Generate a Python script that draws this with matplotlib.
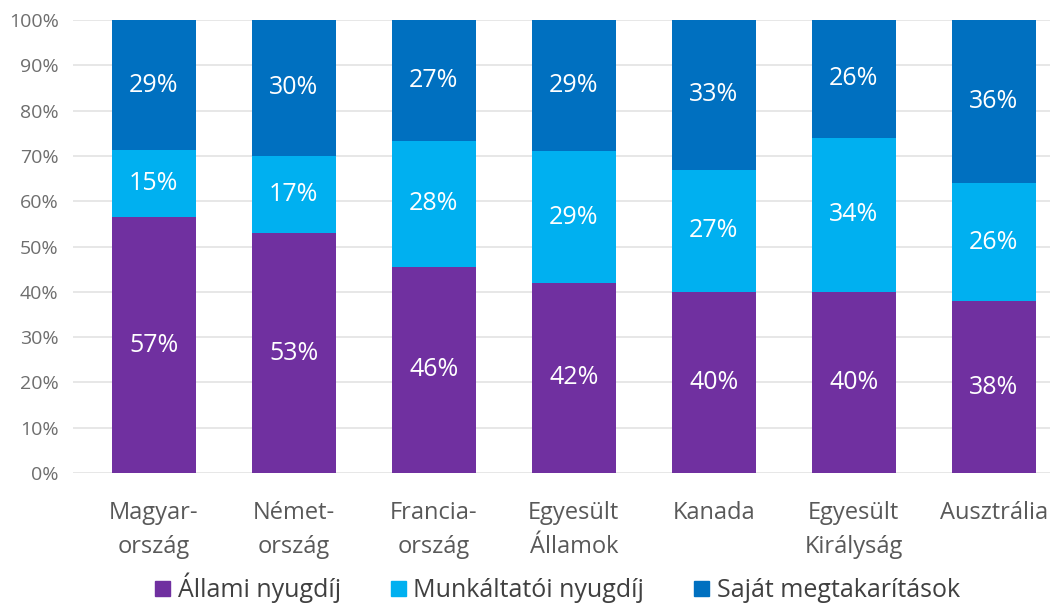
import matplotlib.pyplot as plt
from matplotlib.patches import Patch
import numpy as np

plt.rcParams['font.family'] = ['Open Sans', 'DejaVu Sans']

countries = ['Magyar-\nország', 'Német-\nország', 'Francia-\nország', 'Egyesült\nÁllamok',
             'Kanada', 'Egyesült\nKirályság', 'Ausztrália']
state = np.array([57, 53, 46, 42, 40, 40, 38])
employer = np.array([15, 17, 28, 29, 27, 34, 26])
own = np.array([29, 30, 27, 29, 33, 26, 36])
series_names = ['Állami nyugdíj', 'Munkáltatói nyugdíj', 'Saját megtakarítások']
colors = ['#7030A0', '#00B0F0', '#0070C0']

# 100% stacked: normalise each column
total = state + employer + own
shares = [state / total * 100, employer / total * 100, own / total * 100]
labels = [state, employer, own]

fig = plt.figure(figsize=(10.52, 6.05), dpi=100)
ax = fig.add_axes([0.069, 0.218, 0.929, 0.749])

x = np.arange(len(countries))
bottom = np.zeros(len(countries))
for vals, labs, col in zip(shares, labels, colors):
    ax.bar(x, vals, 0.6, bottom=bottom, color=col, zorder=2)
    for xi, b, v, l in zip(x, bottom, vals, labs):
        ax.text(xi, b + v / 2, f'{l}%', ha='center', va='center', color='white', fontsize=18, zorder=3)
    bottom += vals

ax.set_xlim(-0.579, 6.4)
ax.set_ylim(0, 100)
ax.set_yticks(range(0, 101, 10))
ax.set_yticklabels([f'{v}%' for v in range(0, 101, 10)], fontsize=14, color='#6e6e6e')
ax.set_xticks(x)
ax.set_xticklabels(countries, fontsize=17, color='#595959', linespacing=1.55)
ax.tick_params(axis='both', length=0)
ax.tick_params(axis='x', pad=20)
ax.tick_params(axis='y', pad=10)
ax.yaxis.grid(True, color='#e3e3e3', linewidth=1.2, zorder=0)
for s in ax.spines.values():
    s.set_visible(False)

handles = [Patch(color=c) for c in colors]
fig.legend(handles, series_names, loc='center', bbox_to_anchor=(0.53, 0.028), ncol=3,
           frameon=False, fontsize=18, handlelength=0.6, handleheight=0.6,
           handletextpad=0.3, columnspacing=2.0, labelcolor='#404040')

fig.savefig('out.png', dpi=100, facecolor='white')
